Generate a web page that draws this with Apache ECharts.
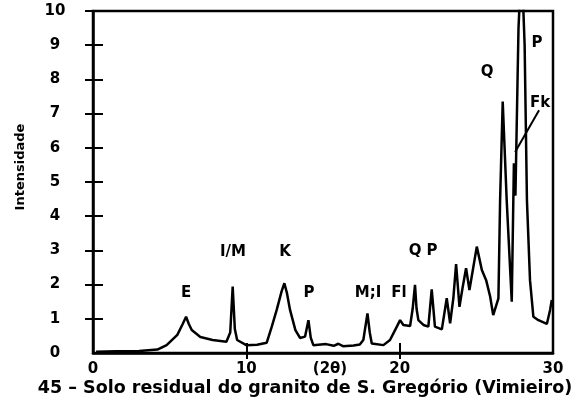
<!DOCTYPE html>
<html>
<head>
<meta charset="utf-8">
<script src="https://cdn.jsdelivr.net/npm/echarts@6/dist/echarts.min.js"></script>
<style>html,body{margin:0;padding:0;background:#fff}#c{width:580px;height:398px}</style>
</head>
<body>
<div id="c"></div>
<script>
// 2θ positions and intensities
const twoTheta = [0.2,1.5,3.0,4.2,4.8,5.5,5.85,6.07,6.25,6.44,7.0,7.8,8.7,8.95,9.11,9.25,9.4,10.0,10.7,11.33,11.66,11.98,12.3,12.48,12.65,12.85,13.2,13.5,13.83,14.05,14.2,14.37,15.2,15.7,16.0,16.3,17.0,17.4,17.63,17.9,18.05,18.18,18.94,19.37,19.7,20.03,20.24,20.68,20.85,21.0,21.1,21.22,21.55,21.87,22.09,22.3,22.75,23.07,23.29,23.5,23.68,23.9,24.1,24.33,24.55,24.8,25.03,25.36,25.64,25.9,26.1,26.44,26.55,26.72,26.98,27.31,27.45,27.55,27.75,27.95,28.15,28.3,28.5,28.72,29.05,29.6,29.81,29.92];
const intensity = [0.04,0.05,0.06,0.1,0.23,0.53,0.85,1.06,0.85,0.67,0.47,0.38,0.33,0.6,1.94,0.7,0.38,0.23,0.24,0.3,0.77,1.26,1.8,2.04,1.75,1.26,0.67,0.44,0.48,0.96,0.45,0.23,0.26,0.21,0.27,0.2,0.22,0.25,0.38,1.16,0.6,0.28,0.23,0.38,0.67,0.96,0.82,0.79,1.3,1.99,1.3,0.96,0.82,0.77,1.86,0.77,0.69,1.6,0.87,1.6,2.6,1.35,1.9,2.48,1.84,2.5,3.11,2.43,2.13,1.65,1.11,1.6,4.47,7.35,4.47,1.5,5.55,4.6,9.5,11.5,9,4.47,2.13,1.06,0.96,0.85,1.26,1.55];

const xTicks = [0, 10, 20, 30];
const yTicks = [0,1,2,3,4,5,6,7,8,9,10];

// Mineral annotations (text + anchor in 2θ / intensity units)
const annText = ['E','I/M','K','P','M;I','Fl','Q P','Q','P','Fk'];
const annX = [6.07, 9.13, 12.52, 14.09, 17.94, 19.96, 21.53, 25.7, 28.96, 29.16];
const annY = [1.75, 2.95, 2.95, 1.75, 1.75, 1.75, 2.98, 8.22, 9.06, 7.31];
const leaderFrom = [29.09, 7.1];
const leaderTo = [27.53, 5.88];

const titleText = '45 \u2013 Solo residual do granito de S. Greg\u00f3rio (Vimieiro)';
const yName = 'Intensidade';
const xName = '(2\u03b8)';

const FONT = 'DejaVu Sans';
const chart = echarts.init(document.getElementById('c'), null, {renderer:'canvas'});

const lineData = twoTheta.map((x,i)=>[x, intensity[i]]);
const annData = annText.map((t,i)=>[annX[i], annY[i], t]);

const axisTxt = {color:'#000', fontFamily:FONT, fontWeight:'bold', fontSize:15};

chart.setOption({
  animation:false,
  backgroundColor:'#fff',
  grid:{left:93, right:27, top:11, bottom:45, show:true, borderColor:'#000', borderWidth:2.5, backgroundColor:'transparent'},
  graphic:[{
    type:'text', x:305, y:388,
    style:{text:titleText, fill:'#000', font:'bold 17.5px "DejaVu Sans"', align:'center', verticalAlign:'middle'}
  }],
  xAxis:[{
    type:'value', min:xTicks[0], max:xTicks[xTicks.length-1], interval:10,
    position:'bottom',
    axisLine:{show:true, lineStyle:{color:'#000', width:2.5}},
    axisTick:{show:true, length:6, customValues:[10,20], lineStyle:{color:'#000', width:2}},
    axisLabel:{...axisTxt, margin:9, customValues:xTicks},
    splitLine:{show:false},
    name:xName, nameLocation:'middle', nameGap:9, nameMoveOverlap:false,
    nameTextStyle:{...axisTxt, verticalAlign:'top', padding:[0,0,0,14]}
  },{
    type:'value', min:xTicks[0], max:xTicks[xTicks.length-1], interval:10,
    position:'bottom',
    axisLine:{show:false},
    axisTick:{show:true, inside:true, length:10, customValues:[10,20], lineStyle:{color:'#000', width:2}},
    axisLabel:{show:false}, splitLine:{show:false}
  }],
  yAxis:[{
    type:'value', min:yTicks[0], max:yTicks[yTicks.length-1], interval:1,
    position:'left',
    axisLine:{show:true, lineStyle:{color:'#000', width:2.5}},
    axisTick:{show:true, length:8, customValues:yTicks.slice(1), lineStyle:{color:'#000', width:2}},
    axisLabel:{...axisTxt, margin:38, align:'center', customValues:yTicks},
    splitLine:{show:false},
    name:yName, nameLocation:'middle', nameGap:66, nameRotate:90, nameMoveOverlap:false,
    nameTextStyle:{color:'#000', fontFamily:FONT, fontWeight:'bold', fontSize:13, padding:[0,0,0,30]}
  },{
    type:'value', min:yTicks[0], max:yTicks[yTicks.length-1], interval:1,
    position:'left',
    axisLine:{show:false},
    axisTick:{show:true, inside:true, length:10, customValues:yTicks.slice(1,-1), lineStyle:{color:'#000', width:2}},
    axisLabel:{show:false}, splitLine:{show:false}
  }],
  series:[{
    type:'line', xAxisIndex:0, yAxisIndex:0, data:lineData, showSymbol:false, symbol:'none',
    lineStyle:{color:'#000', width:2.5}, clip:true,
    markLine:{silent:true, symbol:['none','none'], label:{show:false},
      lineStyle:{color:'#000', width:2, type:'solid', opacity:1},
      data:[[{coord:leaderFrom},{coord:leaderTo}]]}
  },{
    type:'scatter', xAxisIndex:0, yAxisIndex:0, data:annData, symbolSize:0, silent:true,
    itemStyle:{opacity:1},
    label:{show:true, position:'inside', formatter:p=>p.value[2], color:'#000', opacity:1, textBorderWidth:0, fontFamily:FONT, fontWeight:'bold', fontSize:15}
  }]
});
</script>
</body>
</html>
